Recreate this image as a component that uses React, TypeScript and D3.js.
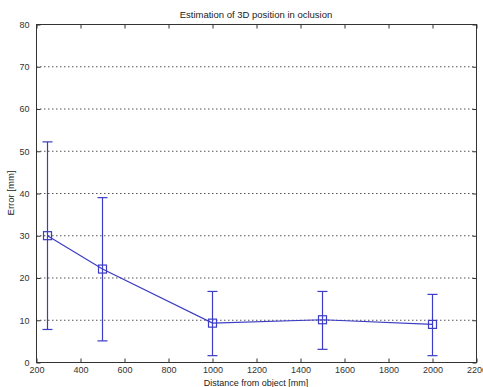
import { useEffect, useRef } from 'react';
import * as d3 from 'd3';

const distances = [250, 500, 1000, 1500, 2000];
const meanError = [29.9, 22, 9.2, 10, 8.9];
const lowerError = [7.7, 5, 1.5, 3, 1.5];
const upperError = [52.1, 38.9, 16.7, 16.7, 16.0];
const xTicks = [200, 400, 600, 800, 1000, 1200, 1400, 1600, 1800, 2000, 2200];
const yTicks = [0, 10, 20, 30, 40, 50, 60, 70, 80];

const App = () => {
    const svgRef = useRef<SVGSVGElement>(null);

    useEffect(() => {
        if (!svgRef.current) return;
        d3.select(svgRef.current).selectAll('*').remove();

        const W = 483, H = 387;
        const margin = { top: 24, right: 7, bottom: 25, left: 36 };
        const width = W - margin.left - margin.right;
        const height = H - margin.top - margin.bottom;
        const font = 'Liberation Sans, Arial, sans-serif';
        const blue = '#3c3cc4';

        const svg = d3.select(svgRef.current)
            .attr('width', W)
            .attr('height', H);

        svg.append('rect').attr('width', W).attr('height', H).attr('fill', '#fff');

        const g = svg.append('g')
            .attr('transform', `translate(${margin.left},${margin.top})`);

        const xScale = d3.scaleLinear().domain([200, 2200]).range([0, width]);
        const yScale = d3.scaleLinear().domain([0, 80]).range([height, 0]);
        const fmt = d3.format('d');

        // horizontal dotted grid
        g.append('g')
            .selectAll('line')
            .data(yTicks.filter(t => t > 0))
            .join('line')
            .attr('x1', 0)
            .attr('x2', width)
            .attr('y1', d => yScale(d) + 0.5)
            .attr('y2', d => yScale(d) + 0.5)
            .attr('stroke', '#555')
            .attr('stroke-width', 1)
            .attr('stroke-dasharray', '1.5,2.5');

        // box
        g.append('rect')
            .attr('x', 0.5)
            .attr('y', 0.5)
            .attr('width', width)
            .attr('height', height)
            .attr('fill', 'none')
            .attr('stroke', '#333')
            .attr('stroke-width', 1);

        // axes with inward ticks
        const styleAxis = (sel: d3.Selection<SVGGElement, unknown, null, undefined>) => {
            sel.select('.domain').remove();
            sel.selectAll('line').attr('stroke', '#333');
            sel.selectAll('text')
                .attr('fill', '#333')
                .style('font-family', font)
                .style('font-size', '9px');
        };

        g.append('g')
            .attr('transform', `translate(0.5,${height + 0.5})`)
            .call(d3.axisBottom(xScale).tickValues(xTicks).tickFormat(v => fmt(v as number)).tickSizeInner(-4).tickSizeOuter(0).tickPadding(4))
            .call(styleAxis);

        g.append('g')
            .attr('transform', 'translate(0.5,0.5)')
            .call(d3.axisTop(xScale).tickValues(xTicks).tickSizeInner(-4).tickSizeOuter(0).tickFormat(() => ''))
            .call(styleAxis);

        g.append('g')
            .attr('transform', 'translate(0.5,0.5)')
            .call(d3.axisLeft(yScale).tickValues(yTicks).tickFormat(v => fmt(v as number)).tickSizeInner(-4).tickSizeOuter(0).tickPadding(7))
            .call(styleAxis);

        g.append('g')
            .attr('transform', `translate(${width + 0.5},0.5)`)
            .call(d3.axisRight(yScale).tickValues(yTicks).tickSizeInner(-4).tickSizeOuter(0).tickFormat(() => ''))
            .call(styleAxis);

        // error bars
        const capHalf = 5;
        distances.forEach((d, i) => {
            const x = xScale(d) + 0.5;
            g.append('line')
                .attr('x1', x).attr('x2', x)
                .attr('y1', yScale(lowerError[i])).attr('y2', yScale(upperError[i]))
                .attr('stroke', blue).attr('stroke-width', 1.2);
            [lowerError[i], upperError[i]].forEach(v => {
                g.append('line')
                    .attr('x1', x - capHalf).attr('x2', x + capHalf)
                    .attr('y1', yScale(v)).attr('y2', yScale(v))
                    .attr('stroke', blue).attr('stroke-width', 1.2);
            });
        });

        // mean line
        const line = d3.line<number>()
            .x((_, i) => xScale(distances[i]) + 0.5)
            .y(v => yScale(v));

        g.append('path')
            .datum(meanError)
            .attr('d', line)
            .attr('fill', 'none')
            .attr('stroke', blue)
            .attr('stroke-width', 1.2);

        // square markers
        g.selectAll('rect.marker')
            .data(meanError)
            .join('rect')
            .attr('class', 'marker')
            .attr('x', (_, i) => xScale(distances[i]) + 0.5 - 4)
            .attr('y', v => yScale(v) - 4)
            .attr('width', 8)
            .attr('height', 8)
            .attr('fill', 'none')
            .attr('stroke', blue)
            .attr('stroke-width', 1.2);

        // title and labels
        svg.append('text')
            .attr('x', margin.left + width / 2)
            .attr('y', 18)
            .attr('text-anchor', 'middle')
            .style('font-family', font)
            .style('font-size', '9.5px')
            .attr('fill', '#222')
            .text('Estimation of 3D position in oclusion');

        svg.append('text')
            .attr('x', margin.left + width / 2)
            .attr('y', H - 1)
            .attr('text-anchor', 'middle')
            .style('font-family', font)
            .style('font-size', '9px')
            .attr('fill', '#222')
            .text('Distance from object [mm]');

        svg.append('text')
            .attr('transform', `translate(14,${margin.top + height / 2}) rotate(-90)`)
            .attr('text-anchor', 'middle')
            .style('font-family', font)
            .style('font-size', '9.5px')
            .attr('fill', '#222')
            .text('Error [mm]');
    }, []);

    return (
        <div style={{ position: 'absolute', left: 0, top: 0 }}>
            <svg ref={svgRef} style={{ display: 'block' }}></svg>
        </div>
    );
};

export default App;
